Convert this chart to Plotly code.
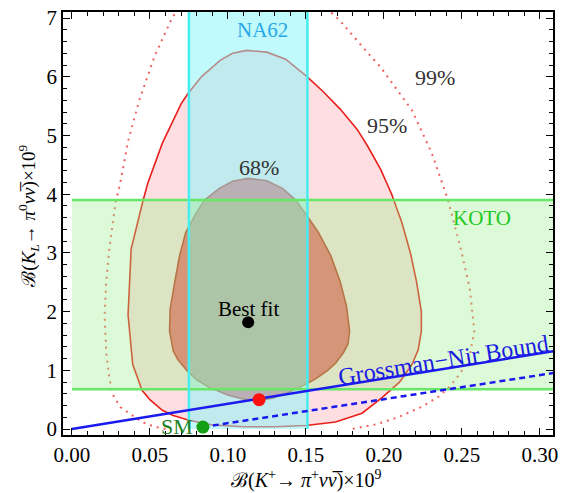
import plotly.graph_objects as go

# ---- data ----
c68_x = [0.113,0.125,0.135,0.1435,0.151,0.158,0.166,0.172,0.176,0.178,0.177,0.174,0.169,0.164,0.156,0.146,0.137,0.128,0.120,0.110,0.100,0.088,0.080,0.074,0.068,0.065,0.0626,0.063,0.066,0.069,0.073,0.079,0.085,0.0945,0.103,0.113]
c68_y = [4.27,4.23,4.10,3.90,3.62,3.35,2.95,2.51,2.10,1.67,1.45,1.30,1.12,1.00,0.85,0.71,0.60,0.52,0.49,0.51,0.58,0.71,0.84,0.99,1.18,1.33,1.67,2.05,2.51,2.95,3.35,3.65,3.90,4.10,4.22,4.27]

c95_x = [0.112,0.125,0.137,0.150,0.161,0.172,0.183,0.190,0.198,0.205,0.2115,0.217,0.221,0.224,0.224,0.222,0.218,0.210,0.199,0.186,0.169,0.150,0.130,0.110,0.090,0.075,0.065,0.058,0.050,0.045,0.039,0.037,0.036,0.037,0.038,0.0455,0.0487,0.058,0.070,0.0743,0.083,0.095,0.103,0.112]
c95_y = [6.45,6.42,6.30,6.02,5.75,5.45,5.10,4.80,4.42,4.00,3.52,3.00,2.50,2.00,1.67,1.35,1.10,0.80,0.54,0.27,0.12,0.06,0.04,0.04,0.07,0.15,0.23,0.32,0.50,0.66,1.10,1.67,1.95,2.50,3.07,3.88,4.19,4.87,5.54,5.71,6.00,6.28,6.40,6.45]

c99_x = [0.060,0.053,0.045,0.040,0.031,0.026,0.024,0.022,0.021,0.022,0.024,0.028,0.031,0.036,0.0434,0.053,0.0647,0.080,0.100,0.120,0.140,0.160,0.172,0.185,0.198,0.218,0.2307,0.241,0.249,0.255,0.258,0.255,0.249,0.242,0.235,0.224,0.209,0.195,0.179]
c99_y = [0.0,0.04,0.12,0.21,0.375,0.60,0.88,1.30,1.95,2.50,3.07,3.86,4.19,4.90,5.62,6.35,7.03,7.50,7.70,7.70,7.55,7.25,6.95,6.55,6.16,5.43,4.70,3.91,3.10,2.40,1.67,1.25,0.95,0.72,0.55,0.375,0.20,0.08,0.0]

na62_range = [0.075, 0.151]
koto_range = [0.68, 3.90]
gn_slope = 4.3
sm_point = (0.084, 0.034)
dashed_end = (0.31, 0.96)
best_fit = (0.113, 1.82)
red_point = (0.120, 0.50)
open_point = (0.126, 0.185)

x_ticks = [0.00, 0.05, 0.10, 0.15, 0.20, 0.25, 0.30]
y_ticks = [0, 1, 2, 3, 4, 5, 6, 7]

SERIF = "Liberation Serif, Times New Roman, serif"

fig = go.Figure()

# contour fills
fig.add_trace(go.Scatter(x=c95_x, y=c95_y, mode="lines", fill="toself",
                         fillcolor="rgb(255,222,225)", line=dict(color="#e8201c", width=1.6),
                         hoverinfo="skip", showlegend=False))
fig.add_trace(go.Scatter(x=c68_x, y=c68_y, mode="lines", fill="toself",
                         fillcolor="rgb(245,105,115)", line=dict(color="#c83a28", width=1.6),
                         hoverinfo="skip", showlegend=False))
fig.add_trace(go.Scatter(x=c99_x, y=c99_y, mode="lines",
                         line=dict(color="#f06060", width=2, dash="2px,5px"),
                         hoverinfo="skip", showlegend=False))

# NA62 band
nx = [na62_range[0], na62_range[1], na62_range[1], na62_range[0], na62_range[0]]
ny = [0.0, 0.0, 8.0, 8.0, 0.0]
fig.add_trace(go.Scatter(x=nx, y=ny, mode="lines", fill="toself",
                         fillcolor="rgba(129,245,249,0.5)", line=dict(width=0),
                         hoverinfo="skip", showlegend=False))
# KOTO band
kx = [0.0, 0.32, 0.32, 0.0, 0.0]
ky = [koto_range[0], koto_range[0], koto_range[1], koto_range[1], koto_range[0]]
fig.add_trace(go.Scatter(x=kx, y=ky, mode="lines", fill="toself",
                         fillcolor="rgba(150,240,135,0.33)", line=dict(width=0),
                         hoverinfo="skip", showlegend=False))
# band edges
for yv in koto_range:
    fig.add_trace(go.Scatter(x=[0.0, 0.32], y=[yv, yv], mode="lines",
                             line=dict(color="#66e866", width=2.5),
                             hoverinfo="skip", showlegend=False))
for xv in na62_range:
    fig.add_trace(go.Scatter(x=[xv, xv], y=[0.0, 8.0], mode="lines",
                             line=dict(color="#44eef0", width=2.5),
                             hoverinfo="skip", showlegend=False))

# Grossman-Nir bound
fig.add_trace(go.Scatter(x=[0.0, 0.32], y=[0.0, gn_slope * 0.32], mode="lines",
                         line=dict(color="#1a1aee", width=2.5),
                         hoverinfo="skip", showlegend=False))
fig.add_trace(go.Scatter(x=[sm_point[0], dashed_end[0]], y=[sm_point[1], dashed_end[1]], mode="lines",
                         line=dict(color="#1a1aee", width=2.5, dash="6px,4px"),
                         hoverinfo="skip", showlegend=False))

# points
fig.add_trace(go.Scatter(x=[best_fit[0]], y=[best_fit[1]], mode="markers",
                         marker=dict(color="black", size=12), hoverinfo="skip", showlegend=False))
fig.add_trace(go.Scatter(x=[red_point[0]], y=[red_point[1]], mode="markers",
                         marker=dict(color="#ff1010", size=13), hoverinfo="skip", showlegend=False))
fig.add_trace(go.Scatter(x=[open_point[0]], y=[open_point[1]], mode="markers",
                         marker=dict(color="rgba(0,0,0,0)", size=11, symbol="circle-open",
                                     line=dict(color="#e03030", width=1.5)),
                         hoverinfo="skip", showlegend=False))
fig.add_trace(go.Scatter(x=[sm_point[0]], y=[sm_point[1]], mode="markers",
                         marker=dict(color="#14a014", size=13), hoverinfo="skip", showlegend=False))

ann = []
def lab(x, y, text, color, size, angle=0, xanchor="center"):
    ann.append(dict(x=x, y=y, xref="x", yref="y", text=text, showarrow=False,
                    font=dict(family=SERIF, size=size, color=color), textangle=angle,
                    xanchor=xanchor, yanchor="middle"))

lab(0.122, 6.80, "NA62", "#2aa8e8", 21)
lab(0.233, 5.99, "99%", "#333333", 22)
lab(0.202, 5.17, "95%", "#333333", 22)
lab(0.120, 4.45, "68%", "#333333", 22)
lab(0.263, 3.60, "KOTO", "#22c822", 21)
lab(0.113, 2.05, "Best fit", "#000000", 21)
lab(0.2385, 1.17, "Grossman\u2212Nir Bound", "#1a1ae0", 24, angle=-9.3)
lab(0.079, 0.04, "SM", "#1f801f", 22, xanchor="right")

ann.append(dict(x=0.496, y=-0.105, xref="paper", yref="paper", showarrow=False,
                text="\u212C(<i>K</i><sup>+</sup>\u2192 <i>\u03c0</i><sup>+</sup><i>\u03bd\u03bd\u0305</i>)\u00d710<sup>9</sup>",
                font=dict(family=SERIF, size=20, color="black"), xanchor="center", yanchor="middle"))
ann.append(dict(x=-0.071, y=0.519, xref="paper", yref="paper", showarrow=False, textangle=-90,
                text="\u212C(<i>K<sub>L</sub></i>\u2192 <i>\u03c0</i><sup>0</sup><i>\u03bd\u03bd\u0305</i>)\u00d710<sup>9</sup>",
                font=dict(family=SERIF, size=19, color="black"), xanchor="center", yanchor="middle"))

axis_common = dict(showgrid=False, zeroline=False, showline=True, linecolor="black", linewidth=1.5,
                   mirror="allticks", ticks="inside", ticklen=7, tickwidth=1.2, tickcolor="black",
                   tickfont=dict(family=SERIF, size=21, color="black"))

fig.update_layout(
    width=565, height=493,
    margin=dict(l=63, r=10, t=7, b=58),
    paper_bgcolor="white", plot_bgcolor="white",
    annotations=ann,
    xaxis=dict(range=[-0.0057, 0.3084], tickvals=x_ticks, ticktext=[f"{v:.2f}" for v in x_ticks],
               minor=dict(ticks="inside", dtick=0.01, tick0=0, ticklen=4, tickcolor="black"),
               **axis_common),
    yaxis=dict(range=[-0.101, 7.104], tickvals=y_ticks, ticktext=[str(v) for v in y_ticks],
               minor=dict(ticks="inside", dtick=0.2, tick0=0, ticklen=4, tickcolor="black"),
               **axis_common),
)

fig.write_html("out.html", config={"displayModeBar": False},
               post_script="document.body.style.margin='0';document.body.style.overflow='hidden';")
